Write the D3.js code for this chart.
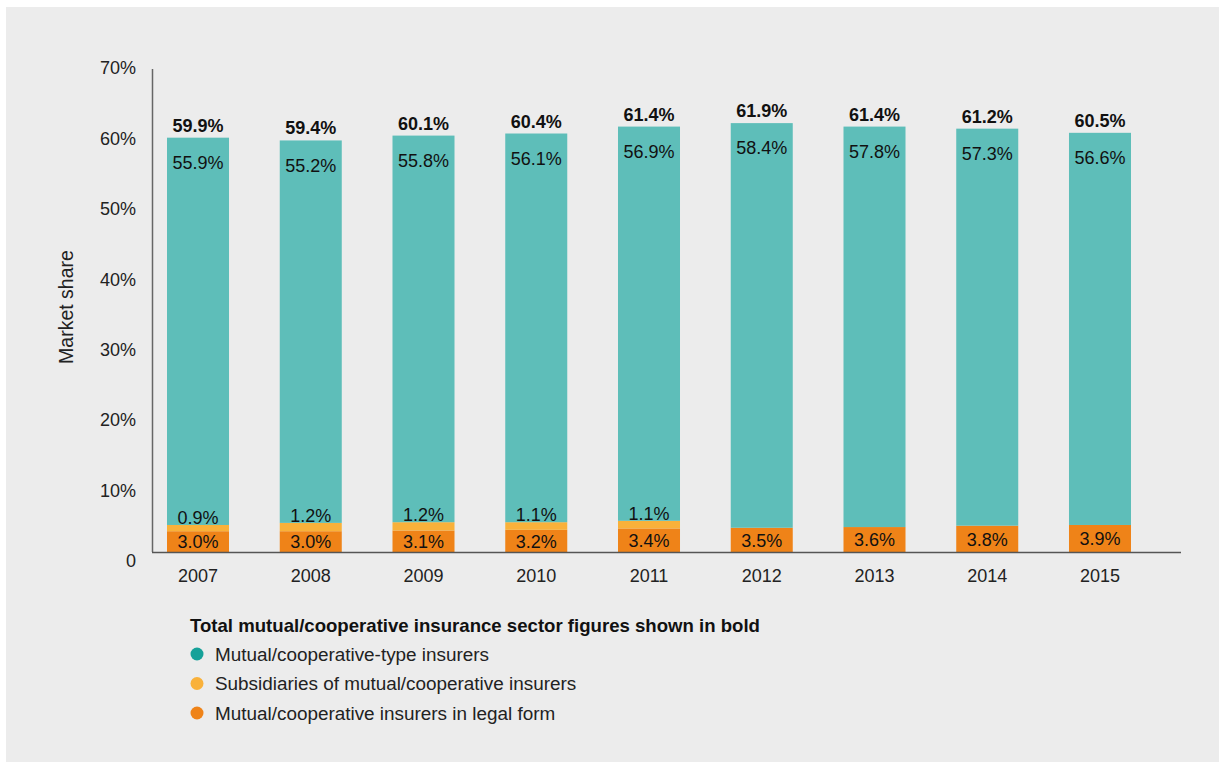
<!DOCTYPE html>
<html><head><meta charset="utf-8">
<script src="https://cdn.jsdelivr.net/npm/d3@7"></script>
<style>
html,body{margin:0;padding:0;background:#fff;}
svg text{font-family:"Liberation Sans",Arial,sans-serif;}
</style></head>
<body>
<svg id="chart" width="1219" height="762"></svg>
<script>
const years = ["2007","2008","2009","2010","2011","2012","2013","2014","2015"];
const legalForm = [3.0,3.0,3.1,3.2,3.4,3.5,3.6,3.8,3.9];
const subsidiaries = [0.9,1.2,1.2,1.1,1.1,0,0,0,0];
const mutualType = [55.9,55.2,55.8,56.1,56.9,58.4,57.8,57.3,56.6];
const totals = [59.9,59.4,60.1,60.4,61.4,61.9,61.4,61.2,60.5];
const yTicks = [0,10,20,30,40,50,60,70];
const seriesNames = ["Mutual/cooperative-type insurers","Subsidiaries of mutual/cooperative insurers","Mutual/cooperative insurers in legal form"];
const legendTitle = "Total mutual/cooperative insurance sector figures shown in bold";

const colors = {legal:"#ef8318", subs:"#f9b13a", mutual:"#5ebeb9"};
const legendColors = ["#16a199","#f9b13a","#ef8318"];

const svg = d3.select("#chart");
svg.append("rect").attr("x",6).attr("y",7).attr("width",1213).attr("height",755).attr("fill","#ececec");

const x = d3.scaleBand().domain(years).range([167,1131]).paddingInner(0.45).paddingOuter(0);
const y = d3.scaleLinear().domain([0,70]).range([552,67]);
const yLab = d3.scaleLinear().domain([0,70]).range([561,68]);

const data = years.map((yr,i)=>({year:yr, legal:legalForm[i], subs:subsidiaries[i], mutual:mutualType[i], total:totals[i]}));
const stack = d3.stack().keys(["legal","subs","mutual"]);
const layers = stack(data);

const g = svg.append("g");
layers.forEach(layer=>{
  g.append("g").selectAll("rect").data(layer).join("rect")
    .attr("x",d=>x(d.data.year))
    .attr("width",x.bandwidth())
    .attr("y",d=>y(d[1]))
    .attr("height",d=>Math.max(0,y(d[0])-y(d[1])))
    .attr("fill",colors[layer.key]);
});

// axes
svg.append("line").attr("x1",152.5).attr("x2",152.5).attr("y1",y(70)+2).attr("y2",y(0)).attr("stroke","#666").attr("stroke-width",1.5);
svg.append("line").attr("x1",152).attr("x2",1181).attr("y1",y(0)+0.5).attr("y2",y(0)+0.5).attr("stroke","#555").attr("stroke-width",1.5);

const fontCol = "#222";
svg.append("g").selectAll("text").data(yTicks).join("text")
  .attr("x",136).attr("y",d=>yLab(d)).attr("dy","0.35em")
  .attr("text-anchor","end").attr("font-size",18).attr("fill",fontCol)
  .text(d=>d===0?"0":d+"%");

svg.append("g").selectAll("text").data(years).join("text")
  .attr("x",d=>x(d)+x.bandwidth()/2).attr("y",576).attr("dy","0.35em")
  .attr("text-anchor","middle").attr("font-size",18).attr("fill",fontCol)
  .text(d=>d);

svg.append("text").attr("transform","translate(73,307) rotate(-90)")
  .attr("text-anchor","middle").attr("font-size",19.5).attr("fill",fontCol).text("Market share");

const fmt = v=>v.toFixed(1)+"%";
const lab = svg.append("g").attr("font-size",18).attr("fill","#111").attr("text-anchor","middle");
data.forEach(d=>{
  const cx = x(d.year)+x.bandwidth()/2;
  const top = y(d.legal+d.subs+d.mutual);
  lab.append("text").attr("x",cx).attr("y",top-6).attr("font-weight","bold").text(fmt(d.total));
  lab.append("text").attr("x",cx).attr("y",top+25).attr("dy","0.35em").text(fmt(d.mutual));
  lab.append("text").attr("x",cx).attr("y",(y(0)+y(d.legal))/2).attr("dy","0.38em").text(fmt(d.legal));
  if(d.subs>0){
    lab.append("text").attr("x",cx).attr("y",y(d.legal+d.subs)-1).text(fmt(d.subs));
  }
});

// legend
svg.append("text").attr("x",190).attr("y",625).attr("dy","0.35em").attr("font-size",18.6)
  .attr("font-weight","bold").attr("fill","#111").text(legendTitle);
const leg = svg.append("g");
seriesNames.forEach((n,i)=>{
  const yy = 654 + i*29.5;
  leg.append("circle").attr("cx",197).attr("cy",yy).attr("r",6.5).attr("fill",legendColors[i]);
  leg.append("text").attr("x",215).attr("y",yy).attr("dy","0.35em").attr("font-size",18.9).attr("fill",fontCol).text(n);
});
</script>
</body></html>
